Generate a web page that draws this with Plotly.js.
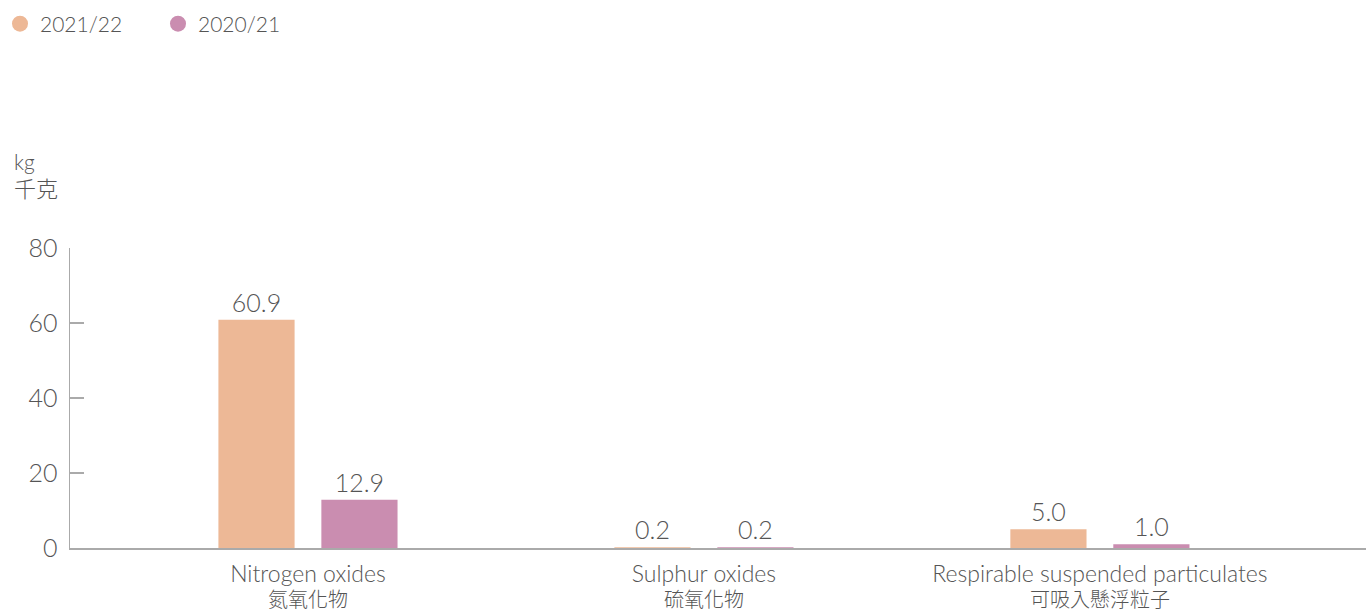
<!DOCTYPE html>
<html>
<head>
<meta charset="utf-8">
<script src="https://cdn.plot.ly/plotly-3.0.1.min.js"></script>
<style>html,body{margin:0;padding:0;background:#fff;}#chart{width:1366px;height:611px;}</style>
</head>
<body>
<div id="chart"></div>
<script>
const categories = ["Nitrogen oxides", "Sulphur oxides", "Respirable suspended particulates"];
const categoriesZh = ["氮氧化物", "硫氧化物", "可吸入懸浮粒子"];
const series2122 = [60.9, 0.2, 5.0];
const series2021 = [12.9, 0.2, 1.0];
const seriesNames = ["2021/22", "2020/21"];
const yTicks = [0, 20, 40, 60, 80];
const unitLabel = 'kg<br><span style="font-size:22px">千克</span>';

const colors = ["#EDB896", "#CA8DB0"];
const FONT = "Lato, 'Noto Sans CJK TC', sans-serif";
const W = 300;
const textColor = "#555555";

const tickText = categories.map((c, i) => '<span style="font-size:23px">' + c + '</span><br><span style="font-size:20px">' + categoriesZh[i] + '</span>');

const traces = [
  {
    type: 'bar', x: categories, y: series2122, name: seriesNames[0],
    marker: {color: colors[0]}, showlegend: false,
    text: series2122.map(v => v.toFixed(1)), textposition: 'outside',
    textfont: {size: 25, color: textColor, family: FONT, weight: W}, cliponaxis: false
  },
  {
    type: 'bar', x: categories, y: series2021, name: seriesNames[1],
    marker: {color: colors[1]}, showlegend: false,
    text: series2021.map(v => v.toFixed(1)), textposition: 'outside',
    textfont: {size: 25, color: textColor, family: FONT, weight: W}, cliponaxis: false
  },
  {type: 'scatter', mode: 'markers', x: [null], y: [null], name: seriesNames[0], marker: {color: colors[0], size: 16}},
  {type: 'scatter', mode: 'markers', x: [null], y: [null], name: seriesNames[1], marker: {color: colors[1], size: 16}}
];

const layout = {
  width: 1366, height: 611,
  margin: {l: 70, r: 0, t: 248, b: 63},
  paper_bgcolor: '#ffffff', plot_bgcolor: '#ffffff',
  font: {family: FONT, color: textColor, weight: W},
  barmode: 'group', bargap: 0.48, bargroupgap: 0.26,
  showlegend: true,
  legend: {
    orientation: 'h', xref: 'container', yref: 'container',
    x: 0.0, xanchor: 'left', y: 1 - 24/611, yanchor: 'middle',
    font: {size: 21, color: textColor, family: FONT, weight: W},
    itemwidth: 30, entrywidth: 113, tracegroupgap: 0
  },
  xaxis: {
    type: 'category', range: [-0.601, 2.672],
    tickmode: 'array', tickvals: categories, ticktext: tickText,
    tickfont: {size: 19, color: textColor, family: FONT, weight: W},
    ticklabelstandoff: 10,
    showline: true, linecolor: '#aaaaaa', linewidth: 1.5,
    ticks: '', showgrid: false, zeroline: false, fixedrange: true
  },
  yaxis: {
    range: [0, 80], tickmode: 'array', tickvals: yTicks,
    tickfont: {size: 25, color: textColor, family: FONT, weight: W},
    showline: true, linecolor: '#aaaaaa', linewidth: 1.5,
    ticks: 'inside', ticklen: 14, tickcolor: '#aaaaaa', tickwidth: 1.5,
    ticklabelstandoff: 6,
    showgrid: false, zeroline: false, fixedrange: true
  },
  annotations: [{
    text: unitLabel, xref: 'paper', yref: 'paper',
    x: -58/1296, xanchor: 'left', y: 1 + 44/300, yanchor: 'bottom',
    showarrow: false, align: 'left',
    font: {size: 21, color: textColor, family: FONT, weight: W}
  }]
};

Plotly.newPlot('chart', traces, layout, {displayModeBar: false, staticPlot: true});
</script>
</body>
</html>
